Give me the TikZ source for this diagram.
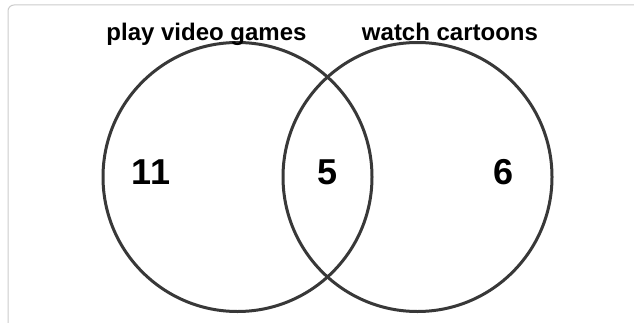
\documentclass[tikz,border=0pt]{standalone}
\usepackage{fontspec}
\setmainfont{Liberation Sans}
\usepackage{tikz}

\begin{document}
\begin{tikzpicture}[x=1pt,y=1pt,
  ring/.style={draw=black!78, line width=3pt},
  setname/.style={anchor=base, inner sep=0pt, font=\fontsize{24}{28}\selectfont\bfseries},
  count/.style={inner sep=0pt, font=\fontsize{36}{40}\selectfont\bfseries}]
\useasboundingbox (0,0) rectangle (634,322);
\fill[white] (0,0) rectangle (634,322);
\draw[black!20, line width=1pt, rounded corners=6pt] (8,-20) |- (660,317);
\draw[ring] (237.5,145) circle (134.5);
\draw[ring] (417.5,145) circle (134.5);
\node (games) at (206.5,281) [setname]{play video games};
\node (cartoons) at (450,281) [setname]{watch cartoons};
\node (onlygames) at (151,150) [count]{11};
\node (both) at (328,150) [count]{5};
\node (onlycartoons) at (504,150) [count]{6};
\end{tikzpicture}
\end{document}
